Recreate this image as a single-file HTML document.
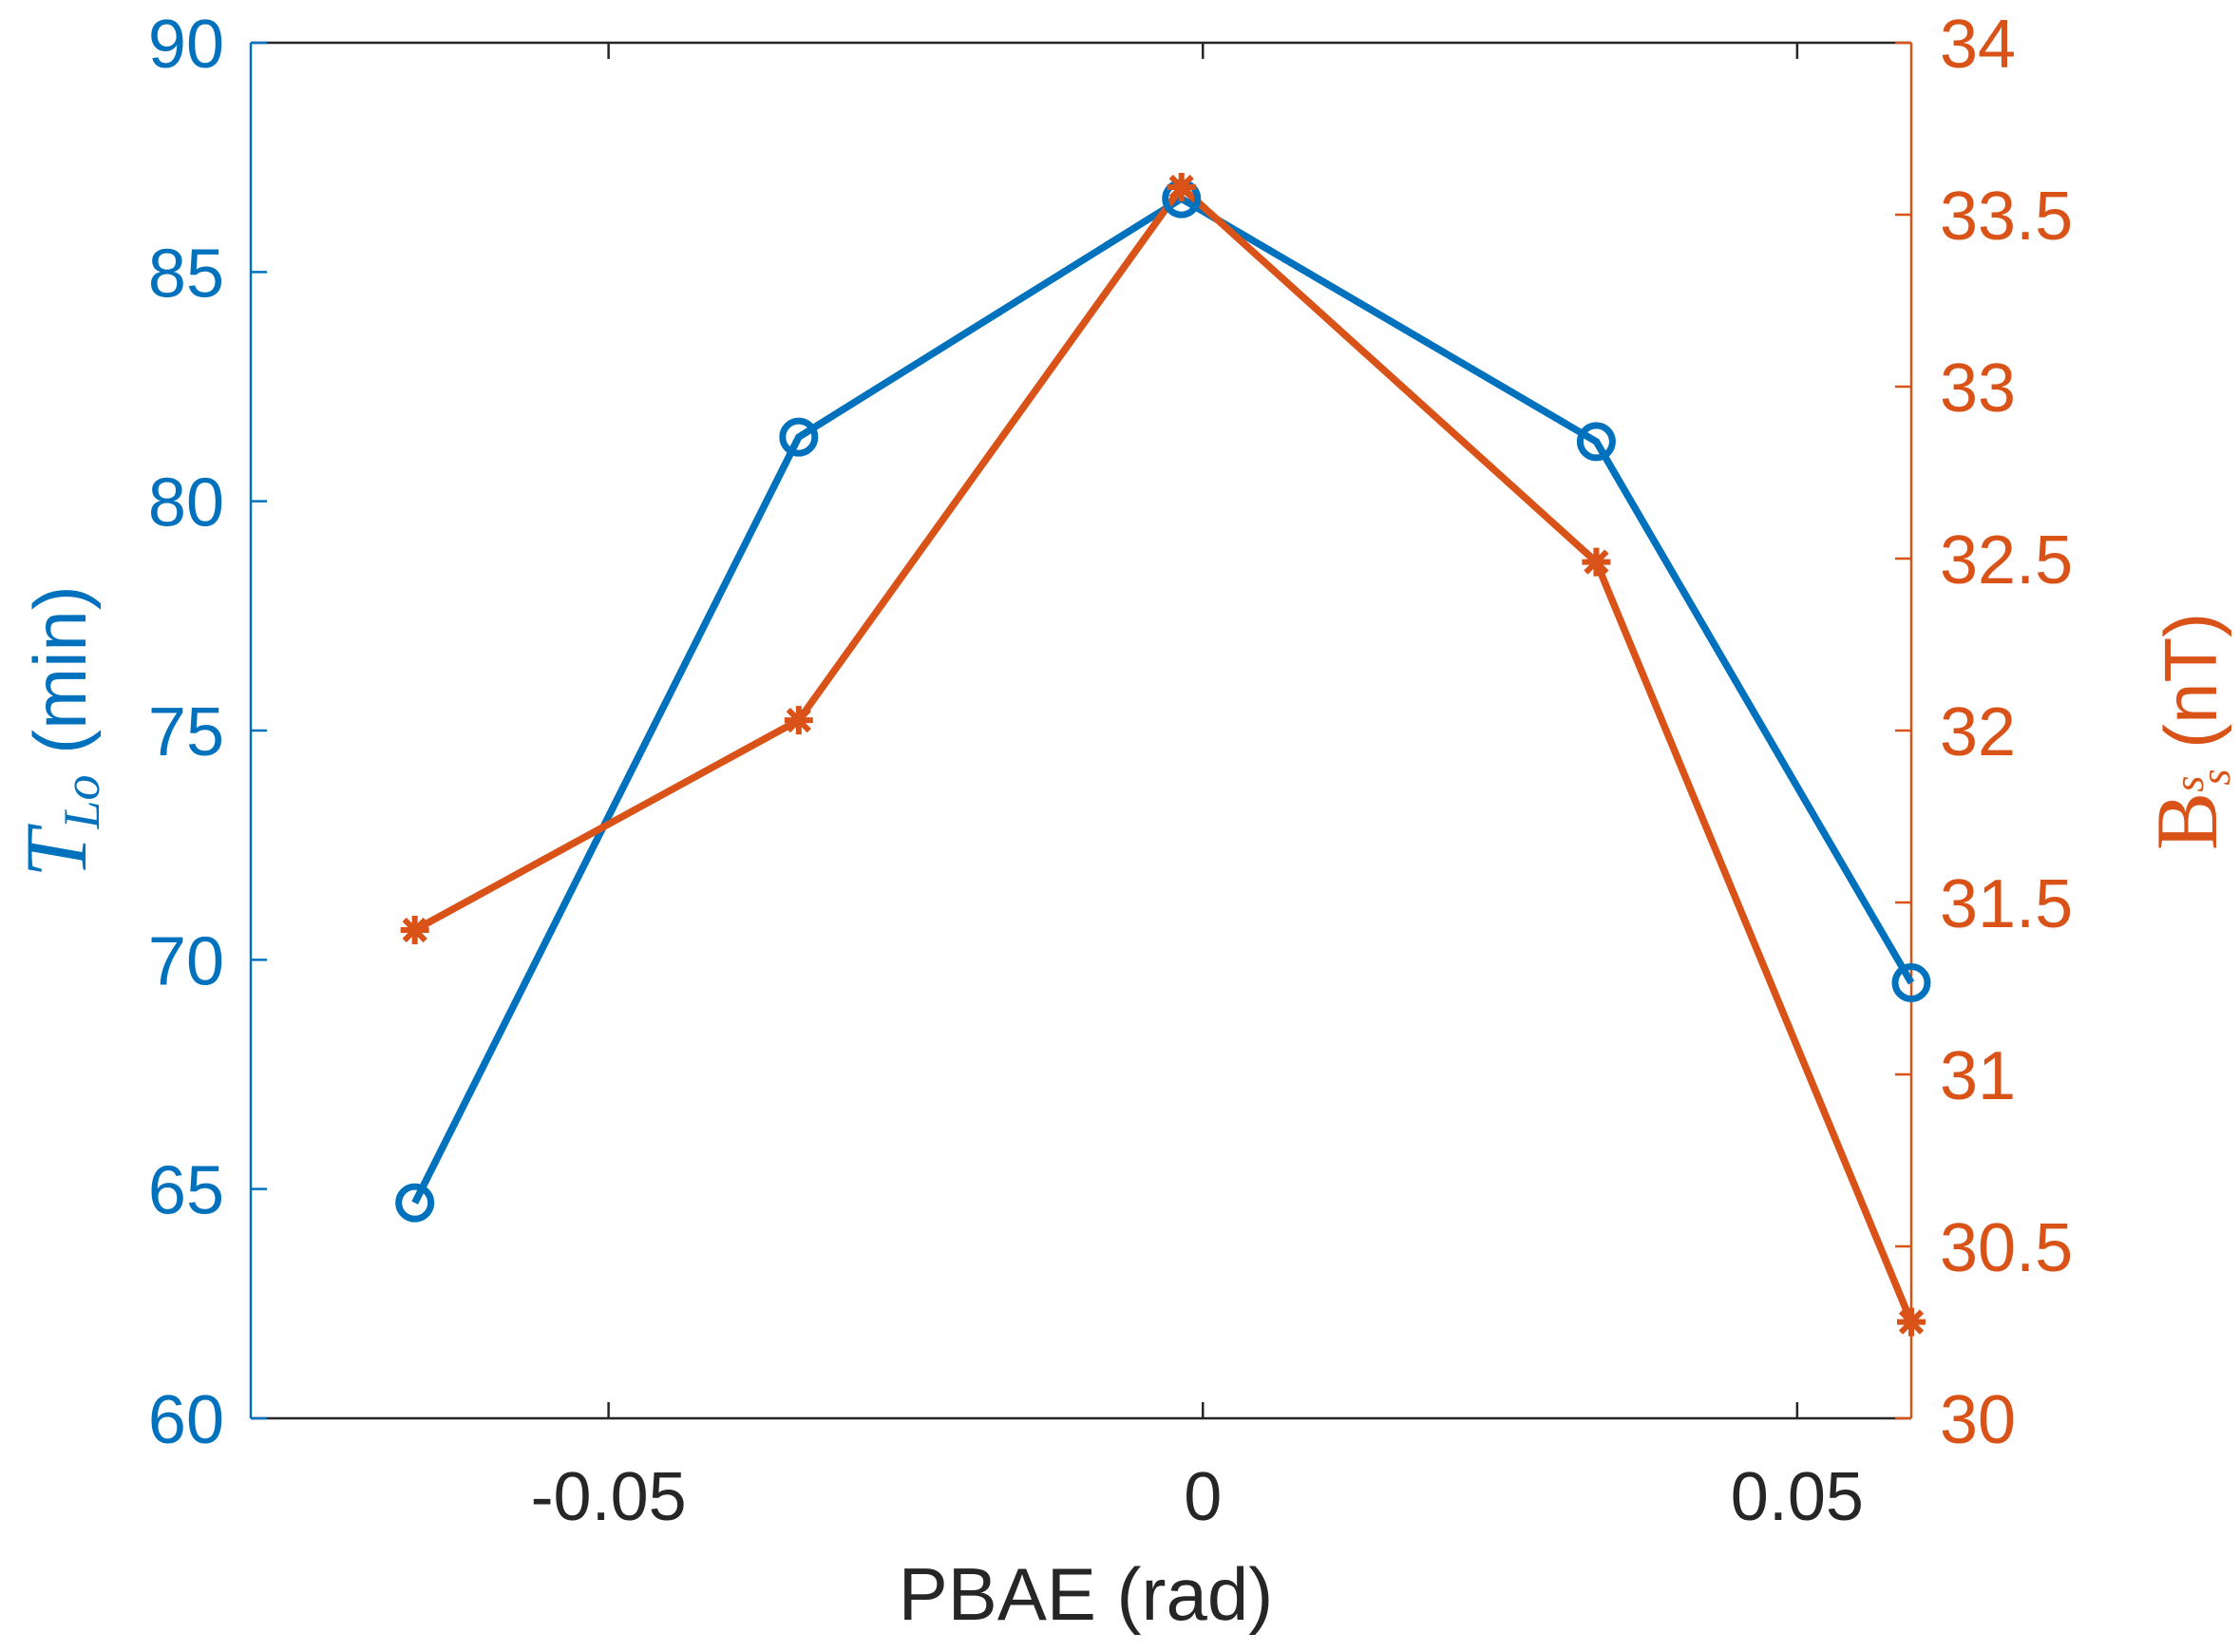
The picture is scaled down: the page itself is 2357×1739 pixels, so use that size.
<!DOCTYPE html>
<html><head><meta charset="utf-8"><style>body{margin:0;background:#fff}svg{display:block}text{font-family:"Liberation Sans",sans-serif}</style></head>
<body>
<svg id="c" width="2357" height="1739" viewBox="0 0 2357 1739"></svg>
<script>
const xVals=[-0.0663,-0.034,-0.0018,0.0331,0.0596];
const tloVals=[64.7,81.4,86.6,81.3,69.5];
const bssVals=[31.42,32.03,33.58,32.49,30.28];
const xTicks=[-0.05,0,0.05];
const xTickLabels=["-0.05","0","0.05"];
const lTicks=[60,65,70,75,80,85,90];
const rTicks=[30,30.5,31,31.5,32,32.5,33,33.5,34];
const rTickLabels=["30","30.5","31","31.5","32","32.5","33","33.5","34"];
const L=264,R=2012,T=45,B=1493,BLUE="#0072BD",OR="#D95319";
const xs=v=>L+(v+0.0801)/(0.0596+0.0801)*(R-L);
const yl=v=>B-(v-60)/30*(B-T);
const yr=v=>B-(v-30)/4*(B-T);
const svg=document.getElementById('c');const NS="http://www.w3.org/2000/svg";
function mk(t,a,txt){const e=document.createElementNS(NS,t);for(const k in a)e.setAttribute(k,a[k]);if(txt!=null)e.textContent=txt;svg.appendChild(e);return e;}
let e;
e=mk('line',{x1:L,y1:B,x2:R,y2:B,stroke:'#262626','stroke-width':2.5});


e=mk('line',{x1:L,y1:T,x2:R,y2:T,stroke:'#262626','stroke-width':2.5});


e=mk('line',{x1:L,y1:T,x2:L,y2:B,stroke:BLUE,'stroke-width':2.5});


e=mk('line',{x1:R,y1:T,x2:R,y2:B,stroke:OR,'stroke-width':2.5});


xTicks.forEach((v,i)=>{const x=xs(v);
mk('line',{x1:x,y1:B,x2:x,y2:B-17,stroke:'#262626','stroke-width':2.5});
mk('line',{x1:x,y1:T,x2:x,y2:T+17,stroke:'#262626','stroke-width':2.5});
e=mk('text',{x:x,y:B+107,'text-anchor':'middle','font-size':72,fill:'#262626'},xTickLabels[i]);

});
lTicks.forEach(v=>{const y=yl(v);
mk('line',{x1:L,y1:y,x2:L+17,y2:y,stroke:BLUE,'stroke-width':2.5});
e=mk('text',{x:236,y:y+26,'text-anchor':'end','font-size':72,fill:BLUE},String(v));

});
rTicks.forEach((v,i)=>{const y=yr(v);
mk('line',{x1:R,y1:y,x2:R-17,y2:y,stroke:OR,'stroke-width':2.5});
e=mk('text',{x:2042,y:y+26,'text-anchor':'start','font-size':72,fill:OR},rTickLabels[i]);

});
e=mk('polyline',{points:xVals.map((v,i)=>xs(v)+','+yl(tloVals[i])).join(' '),fill:'none',stroke:BLUE,'stroke-width':7.5});


e=mk('polyline',{points:xVals.map((v,i)=>xs(v)+','+yr(bssVals[i])).join(' '),fill:'none',stroke:OR,'stroke-width':7.5});


xVals.forEach((v,i)=>{
e=mk('circle',{cx:xs(v),cy:yl(tloVals[i]),r:17,fill:'none',stroke:BLUE,'stroke-width':7});


const cx=xs(v),cy=yr(bssVals[i]);
e=mk('path',{d:`M${cx-15},${cy}H${cx+15}M${cx},${cy-15}V${cy+15}M${cx-11},${cy-11}L${cx+11},${cy+11}M${cx-11},${cy+11}L${cx+11},${cy-11}`,stroke:OR,'stroke-width':6});

});
e=mk('text',{x:1143,y:1705,'text-anchor':'middle','font-size':78,fill:'#262626'},'PBAE (rad)');


e=mk('text',{transform:'translate(90,770) rotate(-90)','text-anchor':'middle','font-size':78,fill:BLUE});
e.innerHTML='<tspan font-family="Liberation Serif" font-style="italic" font-size="92">T</tspan><tspan font-family="Liberation Serif" font-style="italic" font-size="54" dy="14">Lo</tspan><tspan dy="-14"> (min)</tspan>';


e=mk('text',{transform:'translate(2333,770) rotate(-90)','text-anchor':'middle','font-size':78,fill:OR});
e.innerHTML='<tspan font-family="Liberation Serif" font-size="92">B</tspan><tspan font-family="Liberation Serif" font-style="italic" font-size="44" dy="-14">s</tspan><tspan font-family="Liberation Serif" font-style="italic" font-size="44" dx="-10" dy="28">s</tspan><tspan dy="-14"> (nT)</tspan>';


</script>
</body></html>
